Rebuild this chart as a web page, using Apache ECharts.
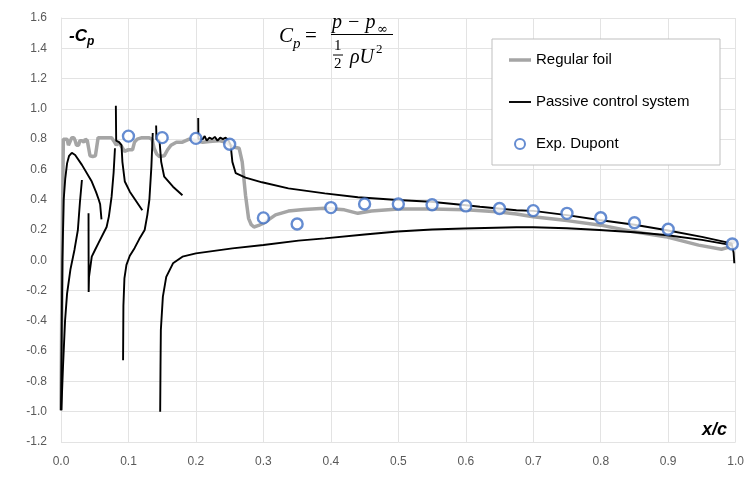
<!DOCTYPE html>
<html>
<head>
<meta charset="utf-8" />
<title>Cp distribution</title>
<script type="text/javascript" src="https://cdn.jsdelivr.net/npm/echarts@6/dist/echarts.min.js"></script>
<style>
  html, body { margin: 0; padding: 0; background: #fff; }
  #chart { width: 747px; height: 491px; }
</style>
</head>
<body>
<div id="chart"></div>
<script type="text/javascript">

// Regular foil (grey) [x/c, -Cp]
var regularFoil = [
  [0.0, -0.99], [0.002, 0.2], [0.003, 0.6], [0.0035, 0.80], [0.006, 0.81], [0.009, 0.80],
  [0.011, 0.76], [0.013, 0.78], [0.016, 0.81], [0.019, 0.81], [0.021, 0.79], [0.023, 0.76],
  [0.026, 0.76], [0.028, 0.79], [0.031, 0.79], [0.034, 0.78], [0.036, 0.80], [0.039, 0.79],
  [0.041, 0.74], [0.043, 0.69], [0.047, 0.685], [0.051, 0.69], [0.053, 0.75], [0.055, 0.81],
  [0.065, 0.81], [0.075, 0.81], [0.078, 0.79], [0.082, 0.76], [0.085, 0.78], [0.09, 0.75],
  [0.094, 0.72], [0.1, 0.73], [0.106, 0.73], [0.109, 0.78], [0.113, 0.80], [0.12, 0.81],
  [0.13, 0.81], [0.135, 0.80], [0.138, 0.74], [0.142, 0.70], [0.146, 0.685], [0.153, 0.69],
  [0.158, 0.73], [0.163, 0.76], [0.171, 0.78], [0.18, 0.78], [0.19, 0.80], [0.2, 0.79],
  [0.21, 0.78], [0.22, 0.785], [0.234, 0.79], [0.245, 0.78], [0.254, 0.75], [0.264, 0.74],
  [0.2686, 0.65], [0.2735, 0.43], [0.278, 0.277], [0.282, 0.235], [0.286, 0.22], [0.293, 0.23],
  [0.3, 0.245], [0.31, 0.275], [0.318, 0.30], [0.337, 0.325], [0.36, 0.335], [0.391, 0.343],
  [0.42, 0.333], [0.44, 0.31], [0.46, 0.326], [0.5, 0.338], [0.55, 0.339], [0.6, 0.333],
  [0.646, 0.32], [0.675, 0.305], [0.7, 0.288], [0.75, 0.262], [0.8, 0.232], [0.847, 0.19],
  [0.896, 0.156], [0.945, 0.10], [0.979, 0.073], [0.989, 0.085], [0.995, 0.13], [0.998, 0.11]
];

// Passive control system (black), one array per element / surface
var passiveA = [
  [0.0, -0.99], [0.001, -0.5], [0.002, 0.0], [0.003, 0.2], [0.004, 0.4], [0.0063, 0.54],
  [0.009, 0.64], [0.012, 0.69], [0.016, 0.71], [0.021, 0.695], [0.031, 0.63], [0.0456, 0.52],
  [0.052, 0.45], [0.056, 0.40], [0.058, 0.37], [0.060, 0.27]
];
var passiveB = [
  [0.0005, -0.99], [0.003, -0.7], [0.006, -0.4], [0.009, -0.22], [0.014, -0.06],
  [0.02, 0.07], [0.025, 0.2], [0.028, 0.38], [0.031, 0.53]
];
var passiveC = [
  [0.0408, 0.31], [0.041, -0.21], [0.0415, -0.11], [0.0456, 0.024], [0.0504, 0.068],
  [0.0553, 0.112], [0.0676, 0.22], [0.071, 0.29], [0.075, 0.42], [0.078, 0.58], [0.08, 0.74]
];
var passiveD = [
  [0.0813, 1.02], [0.0818, 0.79], [0.086, 0.78], [0.0897, 0.76], [0.091, 0.65],
  [0.0946, 0.52], [0.102, 0.453], [0.11, 0.40], [0.1205, 0.33]
];
var passiveE = [
  [0.092, -0.66], [0.0925, -0.3], [0.094, -0.12], [0.097, -0.03], [0.102, 0.03],
  [0.109, 0.08], [0.116, 0.14], [0.124, 0.2], [0.128, 0.3], [0.131, 0.4], [0.134, 0.62], [0.136, 0.84]
];
var passiveF = [
  [0.141, 0.89], [0.1415, 0.80], [0.146, 0.79], [0.1485, 0.65], [0.153, 0.552],
  [0.166, 0.486], [0.18, 0.43]
];
var passiveLower = [
  [0.147, -1.0], [0.1475, -0.7], [0.148, -0.46], [0.151, -0.24], [0.156, -0.11],
  [0.166, -0.02], [0.18, 0.024], [0.2, 0.046], [0.254, 0.079], [0.3, 0.101], [0.352, 0.13],
  [0.391, 0.145], [0.45, 0.17], [0.499, 0.19], [0.55, 0.203], [0.597, 0.21], [0.675, 0.218],
  [0.7, 0.218], [0.75, 0.212], [0.798, 0.2], [0.85, 0.185], [0.896, 0.167], [0.95, 0.135], [0.994, 0.10]
];
var passiveUpper = [
  [0.2034, 0.94], [0.2036, 0.80], [0.206, 0.81], [0.21, 0.80], [0.213, 0.82], [0.216, 0.79],
  [0.22, 0.81], [0.224, 0.80], [0.228, 0.815], [0.232, 0.79], [0.236, 0.81], [0.24, 0.80],
  [0.244, 0.81], [0.248, 0.795], [0.2515, 0.76], [0.254, 0.65], [0.259, 0.575], [0.2735, 0.546],
  [0.298, 0.515], [0.337, 0.475], [0.391, 0.442], [0.44, 0.416], [0.499, 0.398], [0.548, 0.387],
  [0.597, 0.365], [0.621, 0.354], [0.675, 0.33], [0.7, 0.326], [0.75, 0.298], [0.798, 0.266],
  [0.85, 0.235], [0.896, 0.2], [0.95, 0.155], [0.994, 0.112], [0.997, 0.05], [0.998, -0.02]
];

// Exp. Dupont
var expX = [0.1, 0.15, 0.2, 0.25, 0.3, 0.35, 0.4, 0.45, 0.5, 0.55, 0.6, 0.65, 0.7, 0.75, 0.8, 0.85, 0.9, 0.995];
var expY = [0.82, 0.81, 0.805, 0.766, 0.28, 0.24, 0.348, 0.372, 0.372, 0.367, 0.359, 0.342, 0.328, 0.31, 0.281, 0.248, 0.205, 0.108];

var chart = echarts.init(document.getElementById('chart'));

var labelFont = 'Liberation Sans';
var passiveSegs = [passiveA, passiveB, passiveC, passiveD, passiveE, passiveF, passiveLower, passiveUpper];

var series = [{
  name: 'Regular foil',
  type: 'line',
  data: regularFoil,
  symbol: 'none',
  lineStyle: { color: '#a5a5a5', width: 3.5 },
  itemStyle: { color: '#a5a5a5' },
  z: 2
}];
passiveSegs.forEach(function (seg) {
  series.push({
    name: 'Passive control system',
    type: 'line',
    data: seg,
    symbol: 'none',
    lineStyle: { color: '#000', width: 1.9 },
    itemStyle: { color: '#000' },
    z: 3
  });
});
series.push({
  name: 'Exp. Dupont',
  type: 'scatter',
  data: expX.map(function (x, i) { return [x, expY[i]]; }),
  symbol: 'circle',
  symbolSize: 11,
  itemStyle: { color: '#fff', borderColor: '#3f6fc6', borderWidth: 2.4 },
  z: 4
});

function fmt(v) { return Math.abs(v) < 1e-9 ? '0.0' : v.toFixed(1); }

chart.setOption({
  animation: false,
  backgroundColor: '#fff',
  grid: { left: 61, right: 7, top: 18, bottom: 49, containLabel: false },
  xAxis: {
    type: 'value', min: 0, max: 1, interval: 0.1,
    axisLine: { show: true, lineStyle: { color: '#d9d9d9' } },
    axisTick: { show: false },
    splitLine: { show: true, lineStyle: { color: '#e3e3e3' } },
    axisLabel: { color: '#595959', fontFamily: labelFont, fontSize: 12, margin: 14, formatter: fmt }
  },
  yAxis: {
    type: 'value', min: -1.2, max: 1.6, interval: 0.2,
    axisLine: { show: true, lineStyle: { color: '#e3e3e3' } },
    axisTick: { show: false },
    splitLine: { show: true, lineStyle: { color: '#e3e3e3' } },
    axisLabel: { color: '#595959', fontFamily: labelFont, fontSize: 12, margin: 14, formatter: fmt }
  },
  legend: {
    data: [
      { name: 'Regular foil', icon: 'path://M0,0h44v7h-44z' },
      { name: 'Passive control system', icon: 'path://M0,0h44v3.8h-44z' },
      { name: 'Exp. Dupont', icon: 'circle' }
    ],
    orient: 'vertical',
    left: 509,
    top: 52,
    padding: 0,
    itemWidth: 22,
    itemHeight: 10,
    itemGap: 26,
    symbolKeepAspect: true,
    textStyle: { fontFamily: labelFont, fontSize: 15, color: '#000', lineHeight: 16 },
    z: 6
  },
  graphic: [
    { type: 'rect', z: 5, shape: { x: 492, y: 39, width: 228, height: 126 },
      style: { fill: '#fff', stroke: '#bfbfbf', lineWidth: 1 } },
    // -Cp label
    { type: 'text', z: 5, style: { text: '-C', x: 69, y: 36, font: 'italic bold 17px ' + labelFont, fill: '#000', verticalAlign: 'middle' } },
    { type: 'text', z: 5, style: { text: 'p', x: 87, y: 42, font: 'italic bold 12px ' + labelFont, fill: '#000', verticalAlign: 'middle' } },
    // x/c label
    { type: 'text', z: 5, style: { text: 'x/c', x: 702, y: 430, font: 'italic bold 18px ' + labelFont, fill: '#000', verticalAlign: 'middle' } },
    // formula Cp = (p - p∞) / (1/2 ρ U²)
    { type: 'text', z: 5, style: { text: 'C', x: 279, y: 36, font: 'italic 21px Liberation Serif', fill: '#000', verticalAlign: 'middle' } },
    { type: 'text', z: 5, style: { text: 'p', x: 293, y: 44, font: 'italic 15px Liberation Serif', fill: '#000', verticalAlign: 'middle' } },
    { type: 'text', z: 5, style: { text: '=', x: 305, y: 36, font: '21px Liberation Serif', fill: '#000', verticalAlign: 'middle' } },
    { type: 'text', z: 5, style: { text: 'p \u2212 p', x: 332, y: 23, font: 'italic 20px Liberation Serif', fill: '#000', verticalAlign: 'middle' } },
    { type: 'text', z: 5, style: { text: '\u221e', x: 377, y: 30, font: '13px DejaVu Serif', fill: '#000', verticalAlign: 'middle' } },
    { type: 'line', z: 5, shape: { x1: 331, y1: 34.5, x2: 393, y2: 34.5 }, style: { stroke: '#000', lineWidth: 1.2 } },
    { type: 'text', z: 5, style: { text: '1', x: 334, y: 46, font: '15px Liberation Serif', fill: '#000', verticalAlign: 'middle' } },
    { type: 'line', z: 5, shape: { x1: 333, y1: 55, x2: 343, y2: 55 }, style: { stroke: '#000', lineWidth: 1 } },
    { type: 'text', z: 5, style: { text: '2', x: 334, y: 64, font: '15px Liberation Serif', fill: '#000', verticalAlign: 'middle' } },
    { type: 'text', z: 5, style: { text: '\u03c1U', x: 350, y: 58, font: 'italic 20px Liberation Serif', fill: '#000', verticalAlign: 'middle' } },
    { type: 'text', z: 5, style: { text: '2', x: 376, y: 50, font: '13px Liberation Serif', fill: '#000', verticalAlign: 'middle' } }
  ],
  series: series
});
</script>
</body>
</html>
